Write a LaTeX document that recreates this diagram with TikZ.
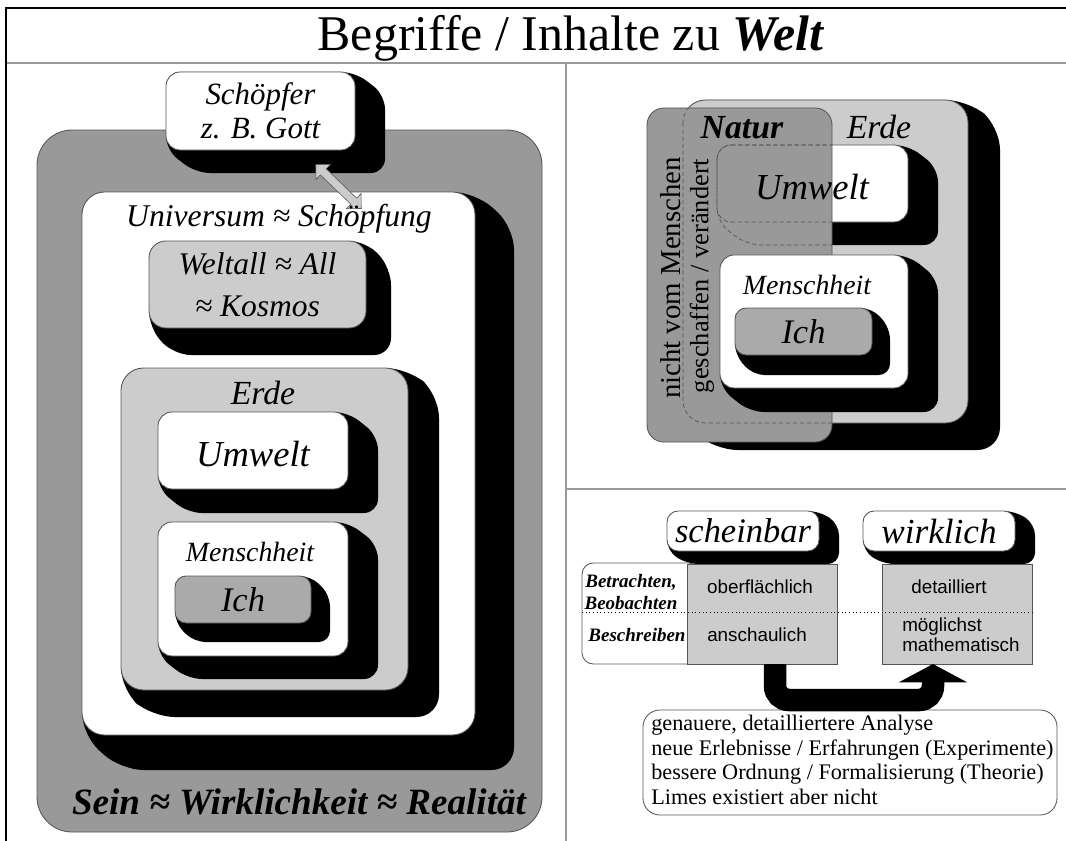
\documentclass[tikz,border=0pt]{standalone}
\usepackage{fontspec}
\setmainfont{Liberation Serif}
\setsansfont{Liberation Sans}
\usetikzlibrary{fit,calc,shapes.arrows,arrows.meta}

\definecolor{seingray}{HTML}{999999}
\definecolor{lgray}{HTML}{CCCCCC}
\definecolor{ichgray}{HTML}{AAAAAA}
\definecolor{edge}{HTML}{555555}
\definecolor{rulegray}{HTML}{999999}

\tikzset{
  plate/.style={draw=edge, line width=0.6pt, inner sep=0pt, outer sep=0pt, rounded corners=#1},
  plate/.default=10pt,
  blackside/.style={fill=black, rounded corners=#1},
  blackside/.default=10pt,
}

\begin{document}
\begin{tikzpicture}[x=0.025cm,y=-0.025cm]
 \useasboundingbox (0,0) rectangle (1066,841);

 %Frame
 \draw[rulegray, line width=1.4pt] (6,63) -- (1066,63);
 \draw[rulegray, line width=1.4pt] (566,63) -- (566,841);
 \draw[rulegray, line width=1.4pt] (566,489) -- (1066,489);
 \draw[black, line width=1.6pt] (6,841) -- (6,8) -- (1066,8);

 \node (title) at (571,51) [anchor=base, font=\fontsize{35.5}{40}\selectfont] {Begriffe / Inhalte zu \textbf{\textit{Welt}}};

 %Left: Sein
 \node (sein) [plate=25pt, fill=seingray, fit={(37,130) (542,832)}] {};

 \fill[blackside] (166,72) -- (355,72) -- (385,95) -- (385,173) -- (196,173) -- (166,150) -- cycle;
 \node (schoepfer) [plate, fill=white, fit={(166,72) (355,150)}] {};

 \fill[blackside=16pt] (82,192) -- (475,192) -- (514,227) -- (514,770) -- (121,770) -- (82,735) -- cycle;
 \node (univ) [plate=16pt, fill=white, fit={(82,192) (475,735)}] {};

 \fill[blackside=12pt] (149,241) -- (366,241) -- (391,268) -- (391,355) -- (174,355) -- (149,328) -- cycle;
 \node (weltall) [plate=12pt, fill=lgray, fit={(149,241) (366,328)}] {};

 \fill[blackside=16pt] (121,368) -- (408,368) -- (439,395) -- (439,717) -- (152,717) -- (121,690) -- cycle;
 \node (erdeL) [plate=16pt, fill=lgray, fit={(121,368) (408,690)}] {};

 \fill[blackside] (158,412) -- (348,412) -- (378,436) -- (378,513) -- (188,513) -- (158,489) -- cycle;
 \node (umweltL) [plate, fill=white, fit={(158,412) (348,489)}] {};

 \fill[blackside] (158,522) -- (348,522) -- (378,545) -- (378,679) -- (188,679) -- (158,656) -- cycle;
 \node (menschL) [plate, fill=white, fit={(158,522) (348,656)}] {};

 \fill[blackside=8pt] (175,576) -- (311,576) -- (330,595) -- (330,642) -- (194,642) -- (175,623) -- cycle;
 \node (ichL) [plate=8pt, fill=ichgray, fit={(175,576) (311,623)}] {};

 %Link Schoepfer - Universum
 \coordinate (linkA) at (315,164);
 \coordinate (linkB) at (362,209);
 \node (link) [double arrow, draw=edge, fill=lgray, rotate=-44, minimum height=45pt, inner xsep=0pt, inner ysep=2.8pt, double arrow head extend=4.5pt] at ($(linkA)!0.5!(linkB)$) {};

 %Left labels
 \node (schoepfertext) at (schoepfer.center) [align=center, font=\fontsize{22}{24}\selectfont\itshape] {Schöpfer\\z. B. Gott};
 \node (univtext) at (279,219) [font=\fontsize{22.5}{24}\selectfont\itshape] {Universum ≈ Schöpfung};
 \node (weltalltext) at (weltall.center) [align=center, font=\fontsize{22.4}{30}\selectfont\itshape] {Weltall ≈ All\\≈ Kosmos};
 \node (erdeLtext) at (263,393) [font=\fontsize{24}{26}\selectfont\itshape] {Erde};
 \node (umweltLtext) at ($(umweltL.center)+(0,3)$) [font=\fontsize{26}{28}\selectfont\itshape] {Umwelt};
 \node (menschLtext) at (250,552) [font=\fontsize{19.8}{22}\selectfont\itshape] {Menschheit};
 \node (ichLtext) at (ichL.center) [font=\fontsize{24.5}{26}\selectfont\itshape] {Ich};
 \node (seintext) at (299,802) [font=\fontsize{26.4}{28}\selectfont\bfseries\itshape] {Sein ≈ Wirklichkeit ≈ Realität};

 %Right top: Erde, Natur
 \fill[blackside=16pt] (683,100) -- (968,100) -- (1000,127) -- (1000,450) -- (715,450) -- (683,423) -- cycle;
 \node (erdeR) [plate=16pt, fill=lgray, fit={(683,100) (968,423)}] {};

 \fill[blackside] (717,145) -- (908,145) -- (938,168) -- (938,245) -- (747,245) -- (717,222) -- cycle;
 \node (umweltR) [plate, fill=white, fit={(717,145) (908,222)}] {};

 \node (natur) [plate=12pt, fill=seingray, fit={(647,108) (832,442)}] {};

 \begin{scope}
  \clip[rounded corners=12pt] (647,108) rectangle (832,442);
  \draw[edge, line width=0.5pt, dash pattern=on 3pt off 2pt, rounded corners=16pt] (683,100) rectangle (968,423);
  \draw[edge, line width=0.5pt, dash pattern=on 3pt off 2pt, rounded corners=10pt] (717,145) rectangle (908,222);
  \draw[edge, line width=0.5pt, dash pattern=on 3pt off 2pt, rounded corners=10pt] (717,145) -- (908,145) -- (938,168) -- (938,245) -- (747,245) -- (717,222) -- cycle;
 \end{scope}

 \fill[blackside] (720,255) -- (908,255) -- (938,279) -- (938,412) -- (750,412) -- (720,388) -- cycle;
 \node (menschR) [plate, fill=white, fit={(720,255) (908,388)}] {};

 \fill[blackside=8pt] (735,308) -- (872,308) -- (890,328) -- (890,375) -- (753,375) -- (735,355) -- cycle;
 \node (ichR) [plate=8pt, fill=ichgray, fit={(735,308) (872,355)}] {};

 %Right top labels
 \node (naturtext) at (742,128) [font=\fontsize{24}{26}\selectfont\bfseries\itshape] {Natur};
 \node (erdeRtext) at (879,127) [font=\fontsize{24}{26}\selectfont\itshape] {Erde};
 \node (umweltRtext) at (812,187) [font=\fontsize{26}{28}\selectfont\itshape] {Umwelt};
 \node (menschRtext) at (807,285) [font=\fontsize{19.8}{22}\selectfont\itshape] {Menschheit};
 \node (ichRtext) at (ichR.center) [font=\fontsize{24.5}{26}\selectfont\itshape] {Ich};
 \node (nichttext) at (671,278) [rotate=90, font=\fontsize{20.5}{22}\selectfont] {nicht vom Menschen};
 \node (geschtext) at (702,276) [rotate=90, font=\fontsize{18.8}{20}\selectfont] {geschaffen / verändert};

 %Right bottom: scheinbar / wirklich
 \fill[blackside=8pt] (667,511) -- (819,511) -- (839,524) -- (839,564) -- (687,564) -- (667,551) -- cycle;
 \node (schein) [plate=8pt, fill=white, fit={(667,511) (819,551)}] {};

 \fill[blackside=8pt] (863,511) -- (1015,511) -- (1035,524) -- (1035,564) -- (883,564) -- (863,551) -- cycle;
 \node (wirk) [plate=8pt, fill=white, fit={(863,511) (1015,551)}] {};

 \node (scheintext) at (schein.center) [font=\fontsize{24.5}{26}\selectfont\itshape] {scheinbar};
 \node (wirktext) at (wirk.center) [font=\fontsize{25}{27}\selectfont\itshape] {wirklich};

 \node (tun) [plate=8pt, fill=white, fit={(582,563) (700,664)}] {};
 \node (scheintab) [plate=0pt, fill=lgray, fit={(687,564) (837,664)}] {};
 \node (wirktab) [plate=0pt, fill=lgray, fit={(882,564) (1032,664)}] {};
 \draw[black, line width=0.6pt, dotted] (tun.west |- 0,612) -- (wirktab.east |- 0,612);

 \node (betr) at (631,592) [align=center, font=\fontsize{13.5}{15}\selectfont\bfseries\itshape] {Betrachten,\\Beobachten};
 \node (beschr) at (637,635) [font=\fontsize{13.5}{15}\selectfont\bfseries\itshape] {Beschreiben};
 \node (oberfl) at (760,587) [font=\fontsize{13.4}{15}\selectfont\sffamily] {oberflächlich};
 \node (anschau) at (757,635) [font=\fontsize{13.4}{15}\selectfont\sffamily] {anschaulich};
 \node (detail) at (949,587) [font=\fontsize{13.4}{15}\selectfont\sffamily] {detailliert};
 \node (mathe) at (902,635) [anchor=west, inner sep=0pt, align=left, font=\fontsize{13.4}{14.2}\selectfont\sffamily] {möglichst\\mathematisch};

 %Analyse
 \node (analyse) [plate=12pt, fill=white, fit={(643,710) (1057,815)}] {};
 \node (analysetext) at (651,760) [anchor=west, align=left, inner sep=0pt, font=\fontsize{15.8}{17.6}\selectfont] {genauere, detailliertere Analyse\\neue Erlebnisse / Erfahrungen (Experimente)\\bessere Ordnung / Formalisierung (Theorie)\\Limes existiert aber nicht};

 \draw[black, line width=16pt, rounded corners=10pt, -{Triangle[width=48pt,length=13pt]}] ($(scheintab.south)+(13,0)$) -- ++(0,36) -| ($(wirktab.south)+(-24,0)$);

\end{tikzpicture}
\end{document}
